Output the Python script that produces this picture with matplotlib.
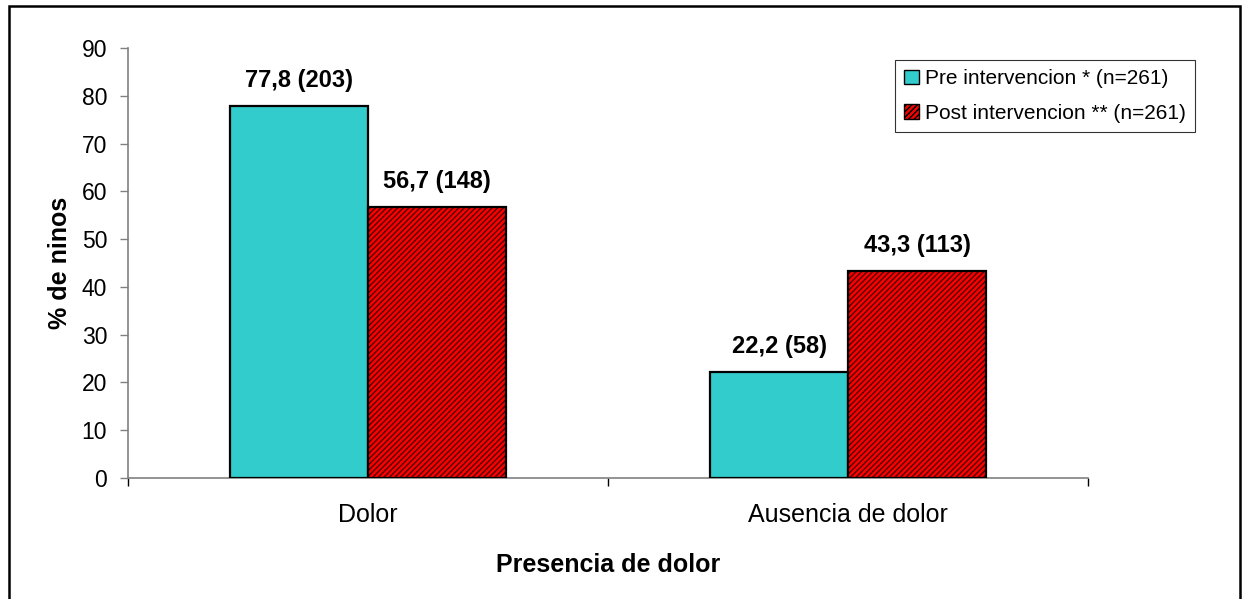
import matplotlib
matplotlib.use("Agg")
import matplotlib.pyplot as plt
from matplotlib.patches import Patch, Rectangle
import numpy as np

plt.rcParams['font.family'] = ['Liberation Sans', 'DejaVu Sans']
plt.rcParams['hatch.linewidth'] = 1.1

categories = ["Dolor", "Ausencia de dolor"]
pre_values = [77.8, 22.2]
post_values = [56.7, 43.3]
pre_counts = [203, 58]
post_counts = [148, 113]
series_labels = ["Pre intervencion * (n=261)", "Post intervencion ** (n=261)"]
y_ticks = [0, 10, 20, 30, 40, 50, 60, 70, 80, 90]

W, H = 1242, 599
fig = plt.figure(figsize=(W / 100, H / 100), dpi=100)
ax = fig.add_axes([128 / W, 1 - 478 / H, 960 / W, 430 / H])

x = np.arange(len(categories))
bw = 0.2875
cyan = "#33CCCC"
red = "#FF0000"

ax.bar(x - bw / 2, pre_values, bw, color=cyan, edgecolor="black", linewidth=1.6, zorder=3)
# red bars: solid fill, then a hatch layer, then the outline
ax.bar(x + bw / 2, post_values, bw, color=red, edgecolor="none", linewidth=0, zorder=3)
ax.bar(x + bw / 2, post_values, bw, color="none", edgecolor="#5a0000", hatch="//////", linewidth=0, zorder=4)
ax.bar(x + bw / 2, post_values, bw, color="none", edgecolor="black", linewidth=1.6, zorder=5)


def fmt(v, n):
    return f"{v:.1f}".replace(".", ",") + f" ({n})"


for xi, v, n in zip(x - bw / 2, pre_values, pre_counts):
    ax.annotate(fmt(v, n), (xi, v), xytext=(0, 10), textcoords="offset points",
                ha="center", va="bottom", fontsize=17, fontweight="bold")
for xi, v, n in zip(x + bw / 2, post_values, post_counts):
    ax.annotate(fmt(v, n), (xi, v), xytext=(0, 10), textcoords="offset points",
                ha="center", va="bottom", fontsize=17, fontweight="bold")

ax.set_xlim(-0.5, len(categories) - 0.5)
ax.set_ylim(0, 90)
ax.set_yticks(y_ticks)
ax.tick_params(axis="y", labelsize=16.5, length=6, color="#808080", width=1, pad=9)

ax.set_xticks(x)
ax.set_xticklabels(categories, fontsize=18)
ax.tick_params(axis="x", which="major", length=0, pad=18)
ax.set_xticks(np.arange(-0.5, len(categories), 1.0), minor=True)
ax.tick_params(axis="x", which="minor", length=6, color="black", width=1, direction="out")

for s in ["top", "right"]:
    ax.spines[s].set_visible(False)
for s in ["left", "bottom"]:
    ax.spines[s].set_color("#808080")
    ax.spines[s].set_linewidth(1.2)

ax.set_ylabel("% de ninos", fontsize=18, fontweight="bold", labelpad=7)
ax.set_xlabel("Presencia de dolor", fontsize=18, fontweight="bold", labelpad=19)

handles = [
    Patch(facecolor=cyan, edgecolor="black", linewidth=1),
    Patch(facecolor=red, edgecolor="black", hatch="//////", linewidth=1),
]
leg = ax.legend(handles, series_labels, loc="upper right",
                bbox_to_anchor=(1195 / W, 1 - 60 / H), bbox_transform=fig.transFigure,
                fontsize=15, frameon=True, fancybox=False, edgecolor="black",
                handlelength=0.7, handleheight=0.7, handletextpad=0.3,
                borderpad=0.45, labelspacing=0.75, borderaxespad=0)
leg.get_frame().set_linewidth(0.8)

# outer frame around the chart area
fig.patches.append(Rectangle((9 / W, -0.05), (1240 - 9) / W, 1.05 - 6 / H,
                             transform=fig.transFigure, fill=False,
                             edgecolor="black", linewidth=1.8))

fig.savefig("out.png", dpi=100)
